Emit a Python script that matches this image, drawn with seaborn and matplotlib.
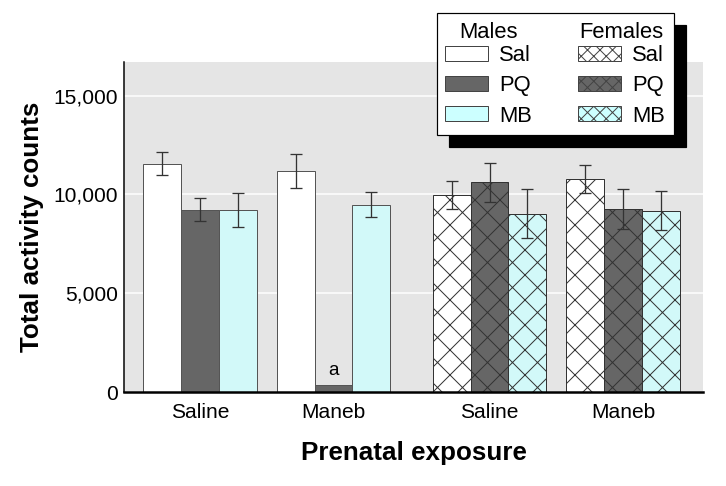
import matplotlib
matplotlib.use("Agg")
import matplotlib.pyplot as plt
from matplotlib.patches import Patch
from matplotlib.ticker import FuncFormatter
import seaborn as sns
import numpy as np
import pandas as pd

# values
group_labels = ["Saline", "Maneb", "Saline", "Maneb"]
group_sex = ["Males", "Males", "Females", "Females"]
treatments = ["Sal", "PQ", "MB"]
means = {
    "Sal": [11550, 11180, 9970, 10780],
    "PQ": [9230, 350, 10620, 9270],
    "MB": [9230, 9480, 9020, 9170],
}
errs = {
    "Sal": [580, 860, 700, 700],
    "PQ": [600, np.nan, 990, 1010],
    "MB": [860, 630, 1250, 980],
}

# layout: males and females are set a little further apart
group_pos = [0.0, 1.0, 2.17, 3.17]

rows = []
for t in treatments:
    for i in range(len(group_labels)):
        rows.append({"pos": group_pos[i], "group": group_labels[i], "sex": group_sex[i],
                     "treatment": t, "count": means[t][i], "err": errs[t][i]})
df = pd.DataFrame(rows)

colors = {"Sal": "#ffffff", "PQ": "#666666", "MB": "#ccffff"}

DPI = 75          # hatch cell is one inch, 75 px gives the finer cross-hatch of the original
PX = 72 / DPI     # pixels -> points

sns.set_style("white")
plt.rcParams["font.family"] = ["Liberation Sans", "DejaVu Sans"]
plt.rcParams["text.color"] = "black"
plt.rcParams["axes.labelcolor"] = "black"
plt.rcParams["xtick.color"] = "black"
plt.rcParams["ytick.color"] = "black"
plt.rcParams["hatch.linewidth"] = 1.0 * PX
plt.rcParams["hatch.color"] = "black"

fig = plt.figure(figsize=(726 / DPI, 486 / DPI), dpi=DPI)
ax = fig.add_axes([0.1708, 0.1934, 0.7975, 0.679])
ax.set_facecolor("#e5e5e5")

sns.barplot(data=df, x="pos", y="count", hue="treatment", hue_order=treatments,
            palette=colors, native_scale=True, width=0.85, errorbar=None,
            edgecolor="#555555", linewidth=1 * PX, legend=False, ax=ax, zorder=2)

pos_arr = np.array(group_pos)
for cont, t in zip(ax.containers, treatments):
    for bar in cont:
        cx = bar.get_x() + bar.get_width() / 2
        gi = int(np.argmin(np.abs(pos_arr - cx)))
        if group_sex[gi] == "Females":
            bar.set_hatch("x")
            bar.set_edgecolor("#333333")
        e = errs[t][gi]
        if not np.isnan(e):
            ax.errorbar(cx, bar.get_height(), yerr=e, color="#333333", lw=1.3 * PX,
                        capsize=6 * PX, capthick=1.3 * PX, zorder=3)
        if t == "PQ" and group_sex[gi] == "Males" and group_labels[gi] == "Maneb":
            ax.annotate("a", (cx, bar.get_height()), xytext=(0, 6 * PX),
                        textcoords="offset points", ha="center", va="bottom",
                        fontsize=19 * PX)

ax.set_xticks(group_pos)
ax.set_xticklabels(group_labels)
ax.set_xlim(-0.571, 3.77)
ax.set_ylim(0, 16700)
ax.set_yticks([0, 5000, 10000, 15000])
ax.yaxis.set_major_formatter(FuncFormatter(lambda v, p: f"{int(v):,}"))
ax.grid(axis="y", color="white", lw=1.5 * PX, zorder=0)
ax.set_axisbelow(True)
ax.tick_params(axis="y", length=0, labelsize=21 * PX, pad=6 * PX)
ax.tick_params(axis="x", length=0, labelsize=21 * PX, pad=11 * PX)
for s in ["top", "right"]:
    ax.spines[s].set_visible(False)
ax.spines["left"].set_color("black")
ax.spines["left"].set_linewidth(1.5 * PX)
ax.spines["bottom"].set_color("black")
ax.spines["bottom"].set_linewidth(2.5 * PX)

ax.set_xlabel("Prenatal exposure", fontsize=26 * PX, fontweight="bold", labelpad=19 * PX)
ax.set_ylabel("Total activity counts", fontsize=26 * PX, fontweight="bold", labelpad=10 * PX)

# legend: two columns, males then females
handles = []
labels = []
for sex in ["Males", "Females"]:
    for t in treatments:
        handles.append(Patch(facecolor=colors[t], edgecolor="#444444", lw=1 * PX,
                             hatch="xx" if sex == "Females" else None))
        labels.append(t)
leg = ax.legend(handles, labels, ncol=2, loc="upper right",
                bbox_to_anchor=(0.950, 1.148), borderaxespad=0, fontsize=22 * PX,
                title=" ", title_fontsize=22 * PX, handlelength=1.95, handleheight=0.68,
                handletextpad=0.5, columnspacing=2.1, labelspacing=0.42,
                borderpad=0.4, fancybox=False, framealpha=1, edgecolor="black",
                shadow={"ox": 12 * PX, "oy": -12 * PX, "color": "black", "alpha": 1})
leg.get_frame().set_linewidth(1.2 * PX)
leg.set_zorder(10)
leg._legend_box.sep = 2

fig.canvas.draw()
r = fig.canvas.get_renderer()
title_bb = leg.get_title().get_window_extent(r)
inv = fig.transFigure.inverted()
for col, name in enumerate(["Males", "Females"]):
    hb = leg.legend_handles[col * 3].get_window_extent(r)
    tb = leg.get_texts()[col * 3].get_window_extent(r)
    cx = (hb.x0 + tb.x1) / 2
    cy = (title_bb.y0 + title_bb.y1) / 2
    fx, fy = inv.transform((cx, cy))
    fig.text(fx, fy, name, ha="center", va="center", fontsize=22 * PX, zorder=11)

fig.savefig("out.png", dpi=DPI)
